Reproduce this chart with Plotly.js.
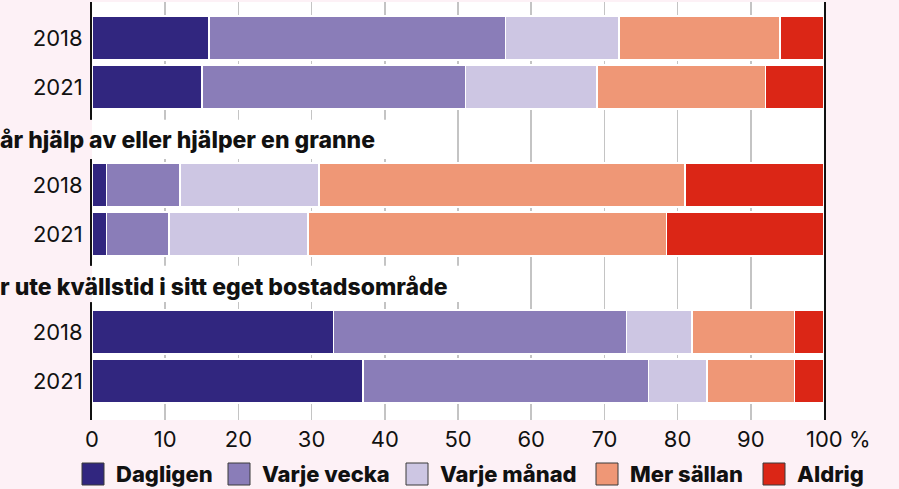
<!DOCTYPE html>
<html>
<head>
<meta charset="utf-8">
<script src="https://cdn.plot.ly/plotly-3.0.1.min.js"></script>
<style>
  html, body { margin: 0; padding: 0; background: #fdf1f6; }
  #chart { width: 899px; height: 489px; }
</style>
</head>
<body>
<div id="chart"></div>
<script>
// ---- data ----
const headings = ["", "år hjälp av eller hjälper en granne", "r ute kvällstid i sitt eget bostadsområde"];
const years = ["2018", "2021"];
const categories = ["Dagligen", "Varje vecka", "Varje månad", "Mer sällan", "Aldrig"];
// rows: group1 2018, group1 2021, group2 2018, group2 2021, group3 2018, group3 2021
const dagligen   = [16, 15, 2, 2, 33, 37];
const varjeVecka = [40.5, 36, 10, 8.5, 40, 39];
const varjeManad = [15.5, 18, 19, 19, 9, 8];
const merSallan  = [22, 23, 50, 49, 14, 12];
const aldrig     = [6, 8, 19, 21.5, 4, 4];
const xTickValues = [0, 10, 20, 30, 40, 50, 60, 70, 80, 90, 100];
const xTickLabels = ["0", "10", "20", "30", "40", "50", "60", "70", "80", "90", "100 %"];

// ---- style ----
const colors = ["#31267f", "#8a7db8", "#cdc6e3", "#ef9776", "#db2616"];
const FONT = "Inter, 'Liberation Sans', sans-serif";
const seriesValues = [dagligen, varjeVecka, varjeManad, merSallan, aldrig];

// y positions: each group has a heading row then two year rows
const rowY = [], rowText = [];
for (let g = 0; g < headings.length; g++) {
  for (let k = 0; k < years.length; k++) {
    rowY.push(3 * g + 1 + k);
    rowText.push(years[k]);
  }
}

const traces = categories.map((name, i) => ({
  type: "bar",
  orientation: "h",
  name: name,
  x: seriesValues[i],
  y: rowY,
  width: 0.9,
  marker: { color: colors[i], line: { color: "#ffffff", width: 1.5 } },
  hoverinfo: "x+name",
  showlegend: false
}));

const W = 732, H = 418, L = 92, T = 2;
const px2paperX = px => (px - L) / W;
const px2paperY = py => (T + H - py) / H;

const shapes = [];
const annotations = [];

// heading masks + heading text
const maskEnds = [null, 45, 54];
const maskRows = [null, [2.67, 3.47], [5.65, 6.39]];
for (let g = 1; g < headings.length; g++) {
  shapes.push({ type: "rect", layer: "above", xref: "paper", yref: "y",
    x0: -0.01, x1: 0, y0: maskRows[g][0], y1: maskRows[g][1],
    fillcolor: "#fdf1f6", line: { width: 0 } });
  shapes.push({ type: "rect", layer: "above", xref: "x", yref: "y",
    x0: 0, x1: maskEnds[g], y0: maskRows[g][0], y1: maskRows[g][1],
    fillcolor: "#ffffff", line: { width: 0 } });
  annotations.push({ xref: "paper", yref: "y", x: px2paperX(-2), y: 3 * g + 0.08,
    xanchor: "left", yanchor: "middle", showarrow: false,
    text: headings[g],
    font: { family: FONT, size: 23, weight: 800, color: "#111111" } });
}

// custom legend
const legendSquares = [82, 228, 406, 596, 763];
categories.forEach((name, i) => {
  const x0 = legendSquares[i];
  shapes.push({ type: "rect", xref: "paper", yref: "paper",
    x0: px2paperX(x0), x1: px2paperX(x0 + 22), y0: px2paperY(463), y1: px2paperY(485),
    fillcolor: colors[i], line: { color: "#3a3a3a", width: 1 } });
  annotations.push({ xref: "paper", yref: "paper", x: px2paperX(x0 + 32), y: px2paperY(474),
    xanchor: "left", yanchor: "middle", showarrow: false,
    text: name,
    font: { family: FONT, size: 22, weight: 800, color: "#111111" } });
});

const tickText = xTickLabels.map(t => t.indexOf(" %") > 0 ? "\u2007\u2007" + t : t);

const layout = {
  width: 899, height: 489,
  margin: { l: L, r: 899 - L - W, t: T, b: 489 - T - H, pad: 0 },
  paper_bgcolor: "#fdf1f6",
  plot_bgcolor: "#ffffff",
  barmode: "stack",
  bargap: 0,
  xaxis: {
    range: [0, 100], tickvals: xTickValues, ticktext: tickText,
    showgrid: true, gridcolor: "#c4c4c4", gridwidth: 1.5,
    zeroline: false, showline: false, ticks: "",
    tickfont: { family: FONT, size: 22, color: "#111111" },
    ticklabelstandoff: 4, fixedrange: true
  },
  yaxis: {
    range: [8.796, 0.265], tickvals: rowY, ticktext: rowText,
    showgrid: false, zeroline: false,
    showline: true, linecolor: "#111111", linewidth: 2, mirror: true,
    ticks: "", tickfont: { family: FONT, size: 22, color: "#111111" },
    ticklabelstandoff: 3, fixedrange: true
  },
  shapes: shapes,
  annotations: annotations,
  showlegend: false
};

Plotly.newPlot("chart", traces, layout, { displayModeBar: false, staticPlot: true });
</script>
</body>
</html>
